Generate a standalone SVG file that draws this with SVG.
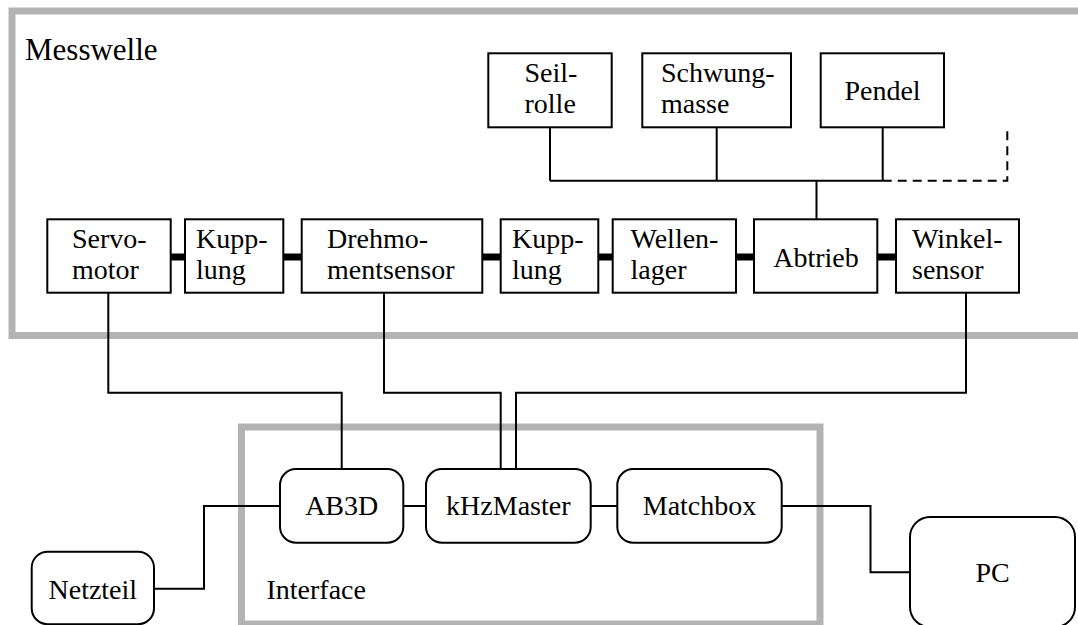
<svg xmlns="http://www.w3.org/2000/svg" width="1078" height="625" viewBox="0 0 1078 625">
<style>
.frame{fill:none;stroke:#b3b3b3;stroke-width:7}
.box{fill:#fff;stroke:#000;stroke-width:2}
.rbox{fill:#fff;stroke:#000;stroke-width:2}
.ln{fill:none;stroke:#000;stroke-width:2}
.dash{fill:none;stroke:#000;stroke-width:2;stroke-dasharray:9 6}
.shaft{fill:none;stroke:#000;stroke-width:7}
text{font-family:"Liberation Serif","Times New Roman",serif;font-size:28px;fill:#000}
.c{text-anchor:middle}
</style>
<rect width="1078" height="625" fill="#fff"/>
<g id="messwelle-frame">
<rect class="frame" x="12" y="11" width="1090" height="324.5"/>
<text x="25" y="60" style="font-size:31px">Messwelle</text>
</g>
<g id="interface-frame">
<rect class="frame" x="241.5" y="427" width="578.5" height="197"/>
<text x="266.5" y="598.5">Interface</text>
</g>
<g id="connectors">
<path class="ln" d="M550,127V180.7M716.7,127V180.7M882.7,127V180.7M550,180.7H882.7M816.5,180.7V219.3"/>
<path class="dash" d="M882.7,180.7H1007.3V128"/>
<path class="shaft" d="M170.7,257H185M283.3,257H301.7M482.3,257H500.7M598.3,257H612.7M736,257H754M877.3,257H896"/>
<path class="ln" d="M108.3,293V392.7H341.7V469"/>
<path class="ln" d="M384,293V392.7H500.7V469"/>
<path class="ln" d="M966,293V392.7H516V469"/>
<path class="ln" d="M403.3,506H426M590.7,506H617.3"/>
<path class="ln" d="M781.7,506H870.5V572.3H910"/>
<path class="ln" d="M154,588.7H204V506H280"/>
</g>
<g id="seilrolle">
<rect class="box" x="488.3" y="53.3" width="123.4" height="74"/>
<text x="524.5" y="81.7">Seil-</text><text x="524.5" y="112.7">rolle</text>
</g>
<g id="schwungmasse">
<rect class="box" x="642.3" y="53.3" width="148.7" height="74"/>
<text x="661" y="81.7">Schwung-</text><text x="661" y="112.7">masse</text>
</g>
<g id="pendel">
<rect class="box" x="820.7" y="53.3" width="123.3" height="74"/>
<text class="c" x="882.5" y="99.5">Pendel</text>
</g>
<g id="servomotor">
<rect class="box" x="47.3" y="219.3" width="123.4" height="73.4"/>
<text x="72" y="247.7">Servo-</text><text x="72" y="278.7">motor</text>
</g>
<g id="kupplung1">
<rect class="box" x="185" y="219.3" width="98.3" height="73.4"/>
<text x="196" y="247.7">Kupp-</text><text x="196" y="278.7">lung</text>
</g>
<g id="drehmomentsensor">
<rect class="box" x="301.7" y="219.3" width="180.6" height="73.4"/>
<text x="327" y="247.7">Drehmo-</text><text x="327" y="278.7">mentsensor</text>
</g>
<g id="kupplung2">
<rect class="box" x="500.7" y="219.3" width="97.6" height="73.4"/>
<text x="512" y="247.7">Kupp-</text><text x="512" y="278.7">lung</text>
</g>
<g id="wellenlager">
<rect class="box" x="612.7" y="219.3" width="123.3" height="73.4"/>
<text x="630.5" y="247.7">Wellen-</text><text x="630.5" y="278.7">lager</text>
</g>
<g id="abtrieb">
<rect class="box" x="754" y="219.3" width="123.3" height="73.4"/>
<text class="c" x="816" y="266.5">Abtrieb</text>
</g>
<g id="winkelsensor">
<rect class="box" x="896" y="219.3" width="123" height="73.4"/>
<text x="912" y="247.7">Winkel-</text><text x="912" y="278.7">sensor</text>
</g>
<g id="ab3d">
<rect class="rbox" x="280" y="469" width="123.3" height="73.7" rx="16"/>
<text class="c" x="341.7" y="515">AB3D</text>
</g>
<g id="khzmaster">
<rect class="rbox" x="426" y="469" width="164.7" height="73.7" rx="16"/>
<text class="c" x="508.3" y="515">kHzMaster</text>
</g>
<g id="matchbox">
<rect class="rbox" x="617.3" y="469" width="164.4" height="73.7" rx="16"/>
<text class="c" x="699.5" y="515">Matchbox</text>
</g>
<g id="netzteil">
<rect class="rbox" x="31.7" y="551.7" width="122.3" height="72.5" rx="16"/>
<text class="c" x="92.8" y="598.5">Netzteil</text>
</g>
<g id="pc">
<rect class="rbox" x="910" y="517" width="165" height="110" rx="20"/>
<text class="c" x="992.5" y="582">PC</text>
</g>
</svg>
